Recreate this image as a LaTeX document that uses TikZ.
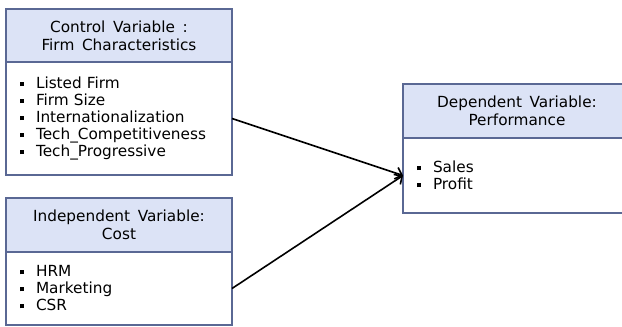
\documentclass[tikz,border=0pt]{standalone}
\usepackage{fontspec}
\setmainfont{DejaVu Sans}
\usetikzlibrary{positioning,arrows.meta}
\definecolor{boxline}{HTML}{5A6894}
\definecolor{headfill}{HTML}{DCE3F6}
\newcommand{\sqb}{\makebox[16pt][l]{\rule[2.5pt]{4pt}{4pt}}}
\newcommand{\boxfont}[1]{\fontsize{15.3}{#1}\selectfont\spaceskip=0.5em plus 0.1em\relax}
\tikzset{
  head/.style={draw=boxline, line width=1.5pt, fill=headfill, minimum width=226pt,
    align=center, inner sep=0pt, outer sep=0pt, font=\boxfont{18}},
  body/.style={draw=boxline, line width=1.5pt, fill=white, text width=198pt,
    inner xsep=14pt, inner ysep=0pt, outer sep=0pt, align=left, font=\boxfont{17}},
  link/.style={line width=1.6pt, -{Straight Barb[length=6pt,width=12pt,line width=1.6pt]}}
}
\begin{document}
\begin{tikzpicture}[x=1pt, y=-1pt]
\useasboundingbox (0,0) rectangle (622,327);
% control variable
\node[head, minimum height=53pt, anchor=north west] (ctrlhead) at (6,9)
  {Control Variable :\\Firm Characteristics};
\node[body, minimum height=113pt, below=0pt of ctrlhead] (ctrlbody)
  {\sqb Listed Firm\\ \sqb Firm Size\\ \sqb Internationalization\\
   \sqb Tech\_Competitiveness\\ \sqb Tech\_Progressive};
% independent variable
\node[head, minimum height=54pt, anchor=north west] (indhead) at (6,198)
  {Independent Variable:\\Cost};
\node[body, minimum height=73pt, below=0pt of indhead] (indbody)
  {\sqb HRM\\ \sqb Marketing\\ \sqb CSR};
% dependent variable
\node[head, minimum width=228pt, minimum height=54pt, anchor=north west] (dephead) at (403,84)
  {Dependent Variable:\\Performance};
\node[body, text width=200pt, minimum height=75pt, below=0pt of dephead] (depbody)
  {\sqb Sales\\ \sqb Profit};
% links
\draw[link] (ctrlbody.east) -- (depbody.west);
\draw[link] (indbody.east) -- (depbody.west);
\end{tikzpicture}
\end{document}
